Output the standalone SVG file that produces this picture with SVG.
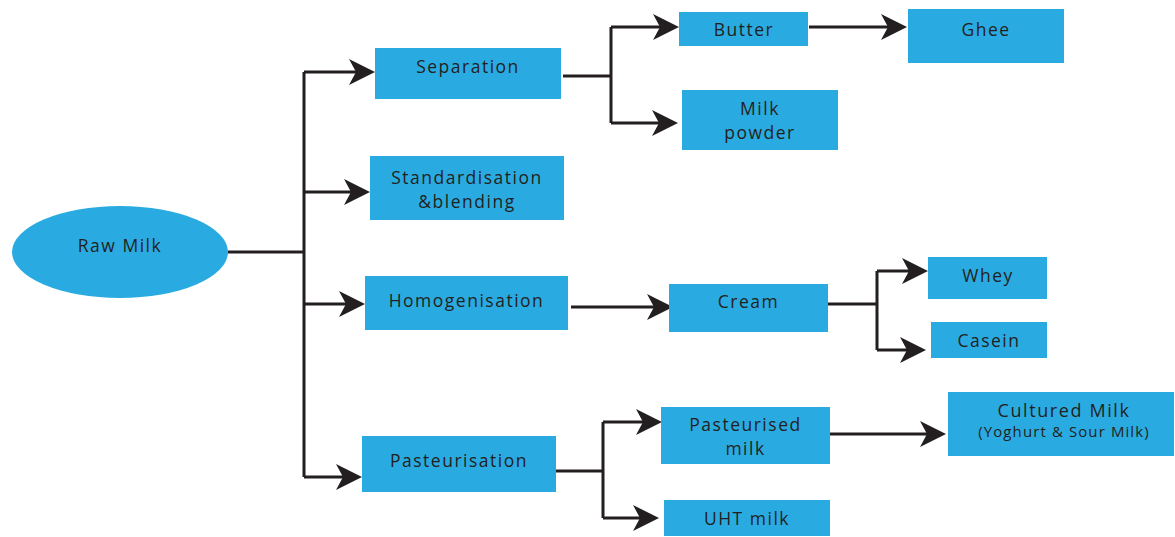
<svg xmlns="http://www.w3.org/2000/svg" width="1175" height="537" viewBox="0 0 1175 537">
  <style>
    .box { fill: #29abe2; }
    .lbl { font-family: "Open Sans", "Liberation Sans", sans-serif; font-size: 17.5px; letter-spacing: 1.5px; fill: #231f20; text-anchor: middle; }
    .big { font-size: 18px; letter-spacing: 1.6px; }
    .sub { font-size: 15px; letter-spacing: 1.1px; }
    .wire { fill: none; stroke: #231f20; stroke-width: 3; }
    .arrow { marker-end: url(#head); }
  </style>
  <defs>
    <marker id="head" markerUnits="userSpaceOnUse" markerWidth="26" markerHeight="26" viewBox="0 0 26 26" refX="13" refY="13" orient="auto">
      <path d="M0,0 L26,13 L0,26 L7,13 Z" fill="#231f20"/>
    </marker>
  </defs>

  <rect width="1175" height="537" fill="#ffffff"/>

  <!-- connectors -->
  <g id="connectors">
    <path class="wire" d="M228,252 H304 M304,72 V477"/>
    <path class="wire arrow" d="M304,72 H362"/>
    <path class="wire arrow" d="M304,192 H357"/>
    <path class="wire arrow" d="M304,304 H352"/>
    <path class="wire arrow" d="M304,477 H349"/>

    <path class="wire" d="M563,76 H611 M611,27 V123"/>
    <path class="wire arrow" d="M611,27 H666"/>
    <path class="wire arrow" d="M611,123 H665"/>
    <path class="wire arrow" d="M809,27 H894"/>

    <path class="wire arrow" d="M571,307 H660"/>

    <path class="wire" d="M828,304 H877 M877,271 V350"/>
    <path class="wire arrow" d="M877,271 H915"/>
    <path class="wire arrow" d="M877,350 H913"/>

    <path class="wire" d="M556,471 H603 M603,422 V518"/>
    <path class="wire arrow" d="M603,422 H649"/>
    <path class="wire arrow" d="M603,518 H646"/>
    <path class="wire arrow" d="M830,434 H933"/>
  </g>

  <g id="raw-milk">
    <ellipse class="box" cx="120" cy="252" rx="108" ry="46"/>
    <text class="lbl" x="120" y="252">Raw Milk</text>
  </g>

  <g id="separation">
    <rect class="box" x="375" y="48" width="186" height="51"/>
    <text class="lbl" x="468" y="73">Separation</text>
  </g>

  <g id="standardisation">
    <rect class="box" x="370" y="156" width="194" height="64"/>
    <text class="lbl" x="467" y="184">Standardisation</text>
    <text class="lbl" x="467" y="208">&amp;blending</text>
  </g>

  <g id="homogenisation">
    <rect class="box" x="365" y="276" width="203" height="54"/>
    <text class="lbl" x="466.5" y="307">Homogenisation</text>
  </g>

  <g id="pasteurisation">
    <rect class="box" x="362" y="436" width="194" height="56"/>
    <text class="lbl" x="459" y="467">Pasteurisation</text>
  </g>

  <g id="butter">
    <rect class="box" x="679" y="12" width="129" height="34"/>
    <text class="lbl" x="744" y="36">Butter</text>
  </g>

  <g id="ghee">
    <rect class="box" x="908" y="9" width="156" height="54"/>
    <text class="lbl" x="986" y="36">Ghee</text>
  </g>

  <g id="milk-powder">
    <rect class="box" x="682" y="90" width="156" height="60"/>
    <text class="lbl" x="760" y="115">Milk</text>
    <text class="lbl" x="760" y="139">powder</text>
  </g>

  <g id="cream">
    <rect class="box" x="669" y="284" width="159" height="48"/>
    <text class="lbl" x="748.5" y="308">Cream</text>
  </g>

  <g id="whey">
    <rect class="box" x="928" y="257" width="119" height="42"/>
    <text class="lbl" x="988" y="282">Whey</text>
  </g>

  <g id="casein">
    <rect class="box" x="931" y="322" width="116" height="36"/>
    <text class="lbl" x="989" y="347">Casein</text>
  </g>

  <g id="pasteurised-milk">
    <rect class="box" x="661" y="407" width="169" height="57"/>
    <text class="lbl" x="745.5" y="431">Pasteurised</text>
    <text class="lbl" x="745.5" y="455">milk</text>
  </g>

  <g id="uht-milk">
    <rect class="box" x="664" y="500" width="166" height="36"/>
    <text class="lbl" x="747" y="525">UHT milk</text>
  </g>

  <g id="cultured-milk">
    <rect class="box" x="948" y="392" width="226" height="64"/>
    <text class="lbl big" x="1064" y="417">Cultured Milk</text>
    <text class="lbl sub" x="1064" y="437">(Yoghurt &amp; Sour Milk)</text>
  </g>
</svg>
